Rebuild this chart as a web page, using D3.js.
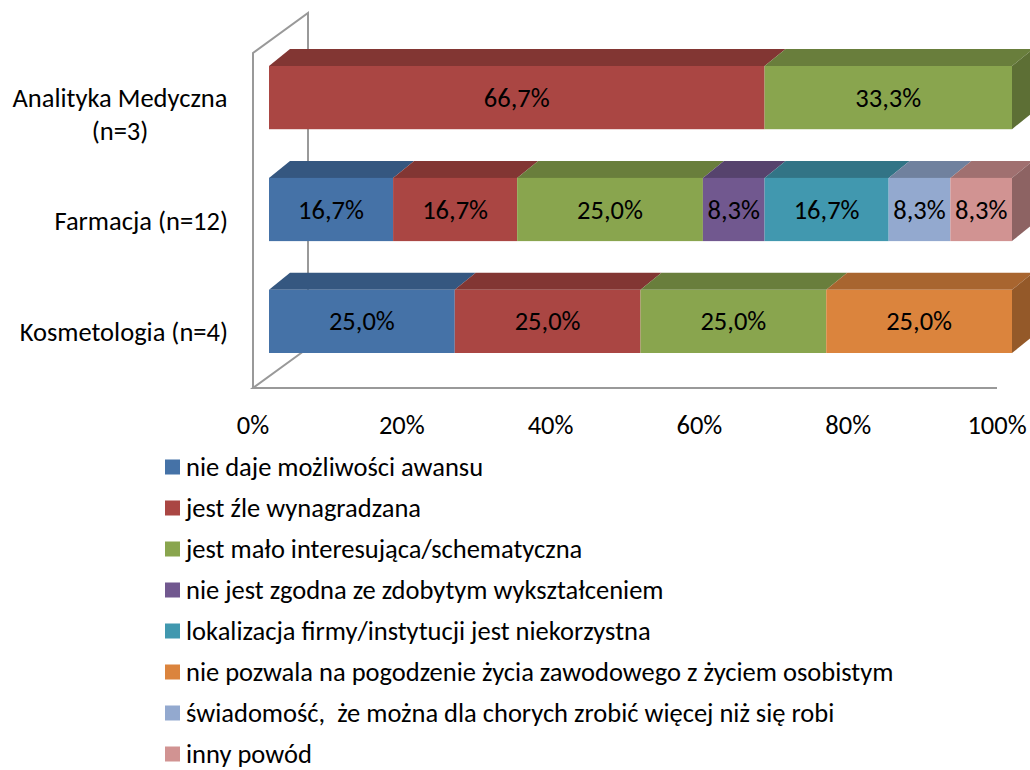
<!DOCTYPE html>
<html>
<head>
<meta charset="utf-8">
<script src="https://cdn.jsdelivr.net/npm/d3@7"></script>
<style>
  body { margin: 0; background: #fff; }
  text { font-family: Carlito, Lato, "Open Sans", sans-serif; fill: #000; white-space: pre; }
</style>
</head>
<body>
<div id="chart"></div>
<script>
const categories = ["Analityka Medyczna (n=3)", "Farmacja (n=12)", "Kosmetologia (n=4)"];
const series = [
  "nie daje możliwości awansu",
  "jest źle wynagradzana",
  "jest mało interesująca/schematyczna",
  "nie jest zgodna ze zdobytym wykształceniem",
  "lokalizacja firmy/instytucji jest niekorzystna",
  "nie pozwala na pogodzenie życia zawodowego z życiem osobistym",
  "świadomość,  że można dla chorych zrobić więcej niż się robi",
  "inny powód"
];
// percent per category, one column per series
const values = [
  [0, 66.7, 33.3, 0, 0, 0, 0, 0],
  [16.7, 16.7, 25.0, 8.3, 16.7, 0, 8.3, 8.3],
  [25.0, 25.0, 25.0, 0, 0, 25.0, 0, 0]
];
const ticks = [0, 20, 40, 60, 80, 100];
const colors = ["#4572A7", "#AA4643", "#89A54E", "#71588F", "#4198AF", "#DB843D", "#93A9CF", "#D19392"];

const W = 1030, H = 770;
const FS = 26.5;
const svg = d3.select("#chart").append("svg").attr("width", W).attr("height", H);

// 3D offsets
const dx = 21, dy = -17;          // bar depth
const fdx = 55, fdy = -40;        // frame depth

const x = d3.scaleLinear().domain([0, 100]).range([269, 1012]);
const xAxis = d3.scaleLinear().domain([0, 100]).range([253, 997]);
const y = d3.scaleBand().domain(categories).range([66, 353]).paddingInner(0.435).paddingOuter(0);

// frame
const frame = svg.append("g").attr("stroke", "#999").attr("stroke-width", 2).attr("fill", "none");
const floorY = 388, wallTop = 53;
frame.append("path").attr("d", `M${xAxis(0)},${floorY} L${xAxis(0)},${wallTop} L${xAxis(0) + fdx},${wallTop + fdy} L${xAxis(0) + fdx},${floorY + fdy}`);
frame.append("path").attr("d", `M${xAxis(100)},${floorY} L${xAxis(0)},${floorY} L${xAxis(0) + fdx},${floorY + fdy}`);

const shade = (c, k) => d3.color(c).darker(k).formatHex();

// bars
categories.forEach((cat, ci) => {
  const g = svg.append("g");
  const y0 = y(cat), h = y.bandwidth();
  let acc = 0;
  const segs = [];
  values[ci].forEach((v, si) => {
    if (v > 0) { segs.push({ si, v, a: acc, b: acc + v }); acc += v; }
  });
  segs.forEach(s => {
    const x0 = x(s.a), x1 = x(s.b);
    g.append("path")
      .attr("d", `M${x0},${y0} L${x0 + dx},${y0 + dy} L${x1 + dx},${y0 + dy} L${x1},${y0} Z`)
      .attr("fill", shade(colors[s.si], 0.75));
  });
  const last = segs[segs.length - 1];
  const xr = x(last.b);
  g.append("path")
    .attr("d", `M${xr},${y0} L${xr + dx},${y0 + dy} L${xr + dx},${y0 + h + dy} L${xr},${y0 + h} Z`)
    .attr("fill", shade(colors[last.si], 1.1));
  segs.forEach(s => {
    const x0 = x(s.a), x1 = x(s.b);
    g.append("rect").attr("x", x0).attr("y", y0).attr("width", x1 - x0).attr("height", h)
      .attr("fill", colors[s.si]);
    g.append("text")
      .attr("x", (x0 + x1) / 2).attr("y", y0 + h / 2)
      .attr("text-anchor", "middle").attr("dominant-baseline", "central")
      .attr("font-size", FS)
      .text(s.v.toFixed(1).replace(".", ",") + "%");
  });
});

// category labels
const labelLines = {
  "Analityka Medyczna (n=3)": ["Analityka Medyczna", "(n=3)"]
};
categories.forEach(cat => {
  const cy = y(cat) + y.bandwidth() / 2;
  const lines = labelLines[cat];
  if (lines) {
    const t = svg.append("text").attr("font-size", FS).attr("text-anchor", "middle");
    lines.forEach((l, i) => {
      t.append("tspan").attr("x", 120).attr("y", cy + i * 33).attr("dominant-baseline", "central").text(l);
    });
  } else {
    svg.append("text").attr("x", 228).attr("y", cy + 11).attr("text-anchor", "end")
      .attr("dominant-baseline", "central").attr("font-size", FS).text(cat);
  }
});

// x axis labels
svg.append("g").selectAll("text").data(ticks).join("text")
  .attr("x", d => xAxis(d)).attr("y", 425)
  .attr("text-anchor", "middle").attr("dominant-baseline", "central")
  .attr("font-size", FS)
  .text(d => d + "%");

// legend
const leg = svg.append("g").selectAll("g").data(series).join("g")
  .attr("transform", (d, i) => `translate(165, ${467 + i * 41})`);
leg.append("rect").attr("x", 0).attr("y", -7.5).attr("width", 15).attr("height", 15)
  .attr("fill", (d, i) => colors[i]);
leg.append("text").attr("x", 21).attr("y", 0).attr("dominant-baseline", "central")
  .attr("font-size", FS).text(d => d);
</script>
</body>
</html>
